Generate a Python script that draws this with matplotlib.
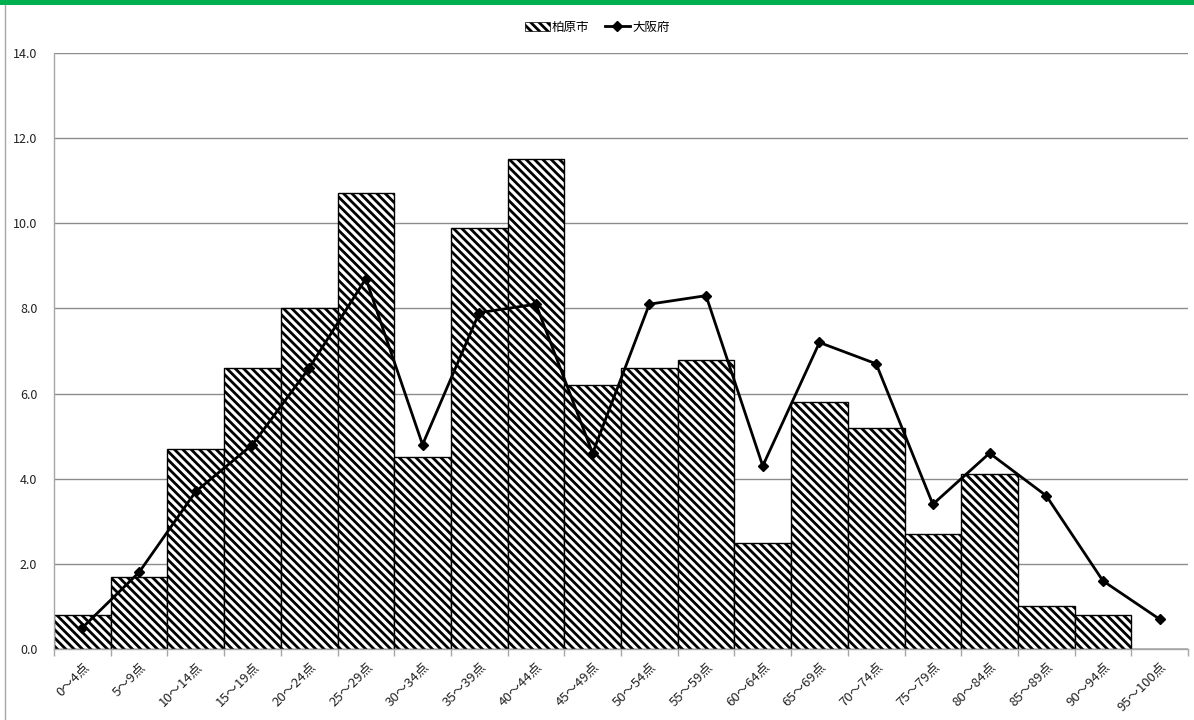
import matplotlib
matplotlib.use("Agg")
import matplotlib.pyplot as plt
import numpy as np
from matplotlib.lines import Line2D
from matplotlib.patches import Rectangle

plt.rcParams['font.family'] = ['Noto Sans CJK JP', 'DejaVu Sans']
plt.rcParams['hatch.linewidth'] = 2.0

categories = ["0～4点", "5～9点", "10～14点", "15～19点", "20～24点", "25～29点",
              "30～34点", "35～39点", "40～44点", "45～49点", "50～54点", "55～59点",
              "60～64点", "65～69点", "70～74点", "75～79点", "80～84点", "85～89点",
              "90～94点", "95～100点"]
kashiwara = [0.8, 1.7, 4.7, 6.6, 8.0, 10.7, 4.5, 9.9, 11.5, 6.2,
             6.6, 6.8, 2.5, 5.8, 5.2, 2.7, 4.1, 1.0, 0.8, 0.0]
osaka = [0.5, 1.8, 3.7, 4.8, 6.6, 8.7, 4.8, 7.9, 8.1, 4.6,
         8.1, 8.3, 4.3, 7.2, 6.7, 3.4, 4.6, 3.6, 1.6, 0.7]
yticks = [0, 2, 4, 6, 8, 10, 12, 14]

HATCH = "\\" * 4

fig = plt.figure(figsize=(11.94, 7.2), dpi=100)
fig.patch.set_facecolor("white")

# frame decorations: green strip on top, grey border at left
fig.add_artist(Rectangle((0, 1 - 5 / 720), 1, 5 / 720, transform=fig.transFigure,
                         color="#00b050", lw=0))
fig.add_artist(Line2D([5 / 1194, 5 / 1194], [0, 1 - 5 / 720], transform=fig.transFigure,
                      color="#a6a6a6", lw=1.0))

ax = fig.add_axes([54 / 1194, 1 - 649 / 720, (1188 - 54) / 1194, (649 - 53) / 720])
x = np.arange(len(categories))

ax.bar(x, kashiwara, width=1.0, color="white", edgecolor="black", linewidth=1.0,
       hatch=HATCH, zorder=2)
ax.plot(x, osaka, color="black", linewidth=2.0, marker="D", markersize=5, zorder=4)

ax.set_xlim(-0.5, len(categories) - 0.5)
ax.set_ylim(0, 14)
ax.set_yticks(yticks)
ax.set_yticklabels([f"{v:.1f}" for v in yticks], fontsize=9, color="#222222")
ax.yaxis.grid(True, color="#8c8c8c", linewidth=1.0, zorder=1)
ax.set_axisbelow(True)
ax.tick_params(axis="y", length=0, pad=12)

ax.set_xticks(x)
ax.set_xticklabels(categories, rotation=45, ha="right", rotation_mode="anchor",
                   fontsize=9.5, color="#222222")
ax.set_xticks(np.arange(len(categories) + 1) - 0.5, minor=True)
ax.tick_params(axis="x", which="major", length=0, pad=8)
ax.tick_params(axis="x", which="minor", length=5, color="#a6a6a6", width=1.0)

for s in ("top", "right"):
    ax.spines[s].set_visible(False)
for s in ("left", "bottom"):
    ax.spines[s].set_edgecolor("#a6a6a6")
    ax.spines[s].set_linewidth(1.0)

handles = [Rectangle((0, 0), 1, 1, facecolor="white", edgecolor="black",
                     hatch=HATCH, linewidth=0.5),
           Line2D([], [], color="black", linewidth=2.0, marker="D", markersize=5)]
fig.legend(handles, ["柏原市", "大阪府"], loc="center", bbox_to_anchor=(0.5, 1 - 27 / 720),
           ncol=2, frameon=False, fontsize=9, handlelength=2.0, handletextpad=0.2,
           columnspacing=1.2)

fig.savefig("out.png", dpi=100, facecolor="white")
